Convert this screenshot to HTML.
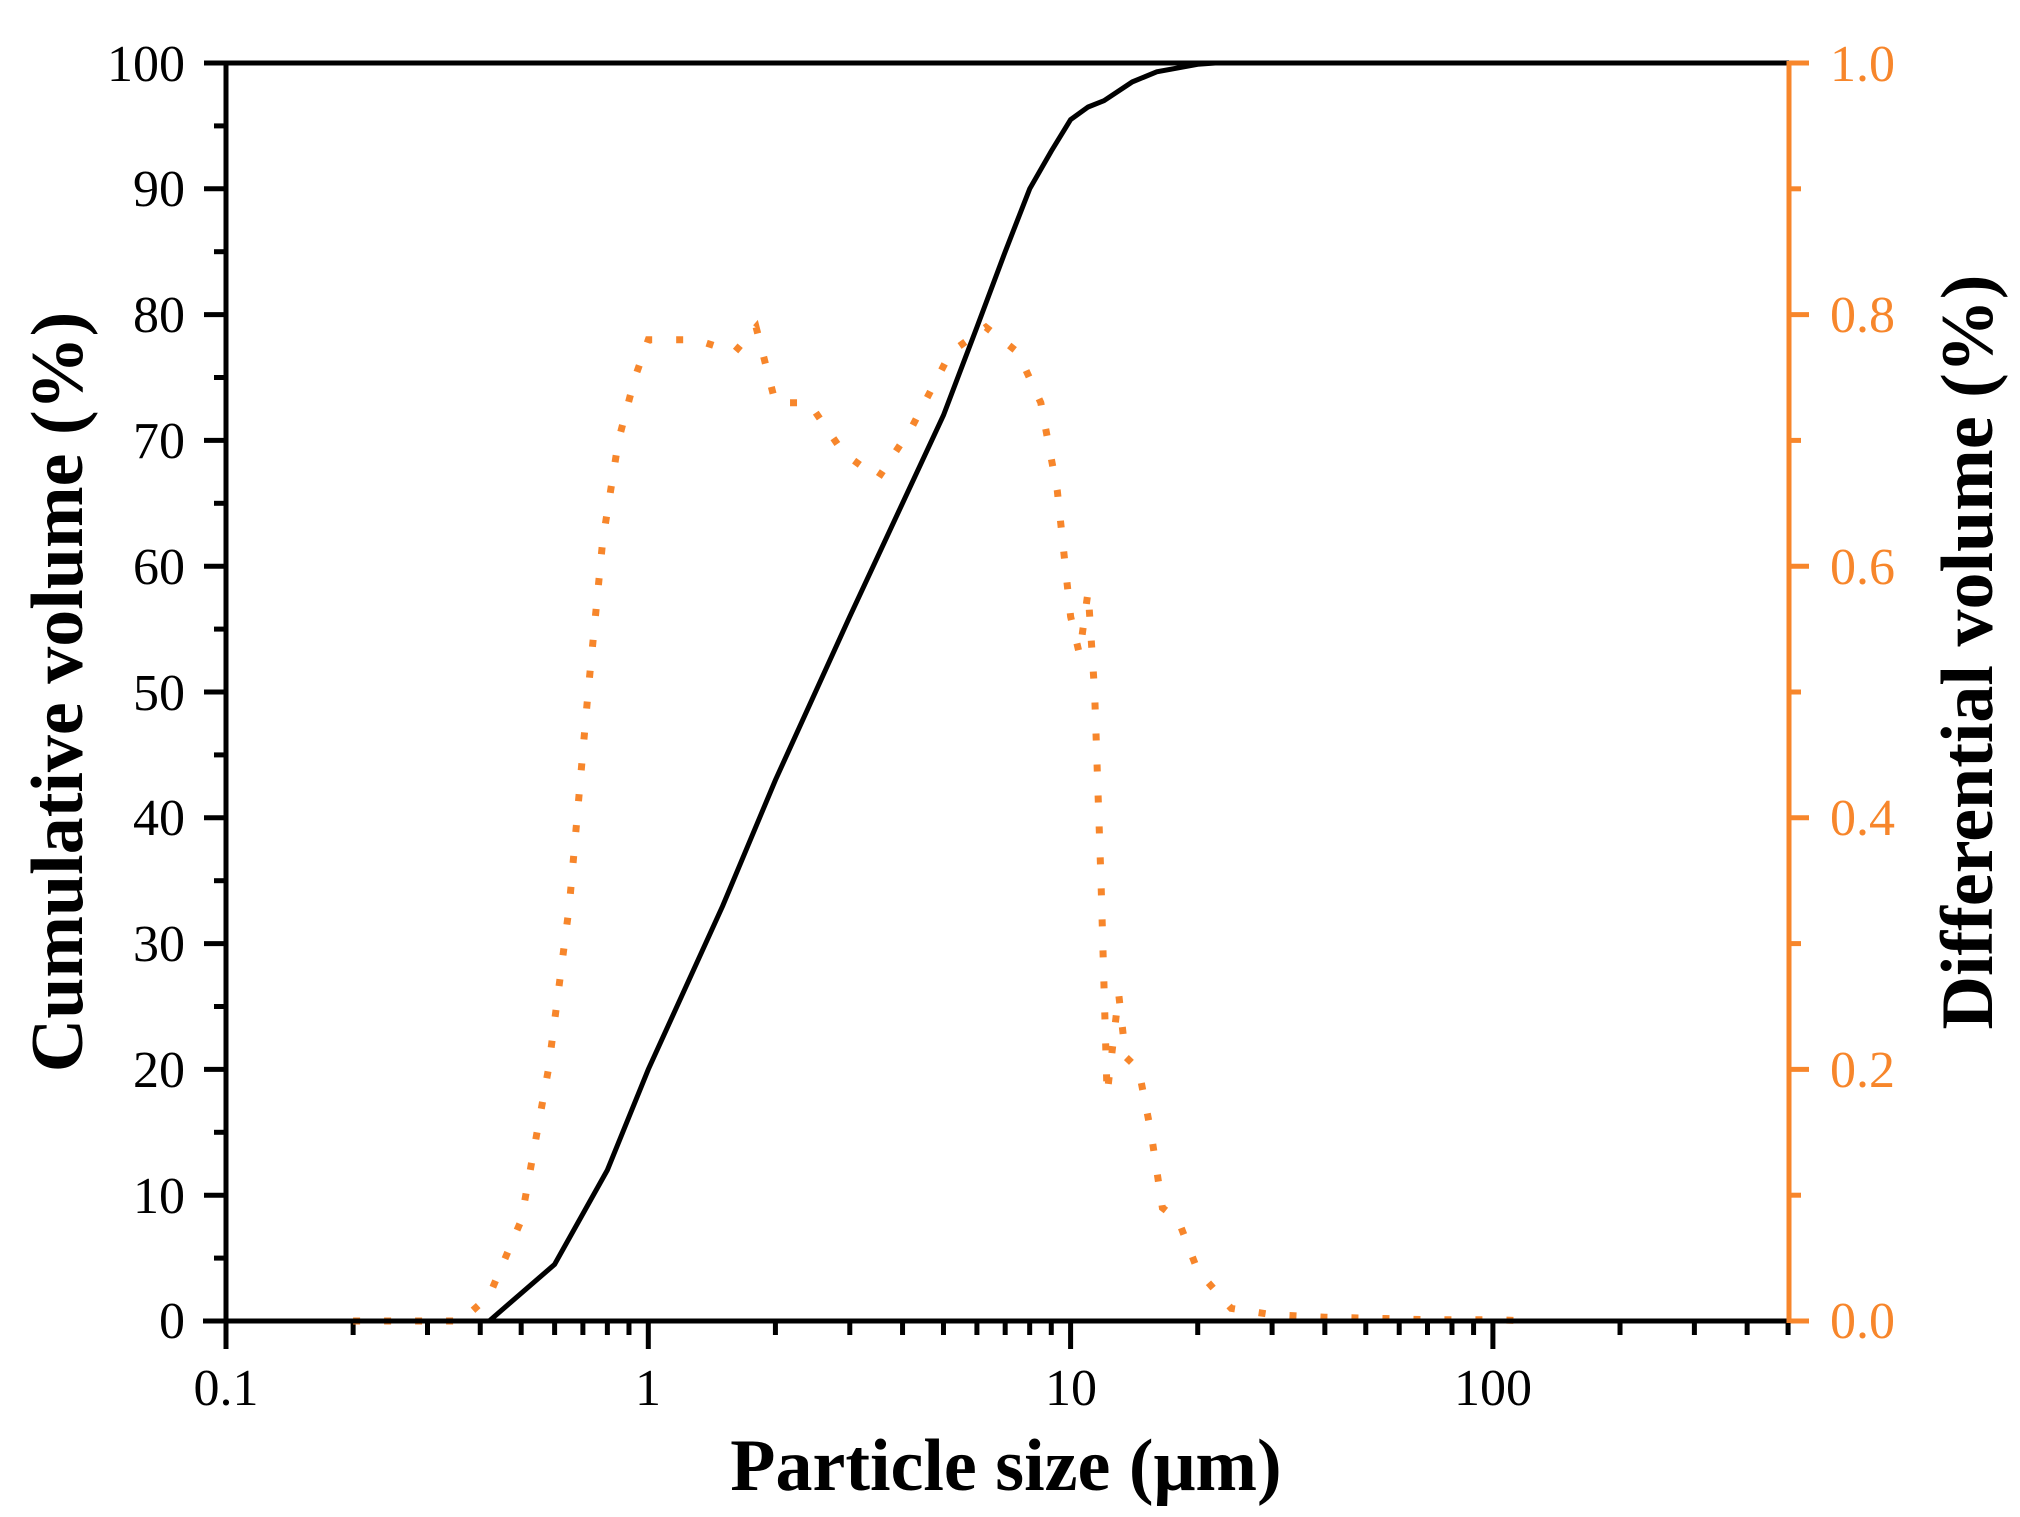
<!DOCTYPE html>
<html><head><meta charset="utf-8"><style>
html,body{margin:0;padding:0;background:#fff;}
svg{display:block;}
text{font-family:"Liberation Serif","Times New Roman",serif;}
</style></head><body>
<svg id="s" width="2020" height="1517" viewBox="0 0 2020 1517" xmlns="http://www.w3.org/2000/svg">
<rect width="2020" height="1517" fill="#fff"/>
<g id="ticks"></g>
<path id="diff" fill="none" stroke="#f7862b" stroke-width="7" stroke-dasharray="7 24"/>
<path id="cum" fill="none" stroke="#000" stroke-width="5"/>
<line x1="226" y1="63" x2="1789" y2="63" stroke="#000" stroke-width="5"/>
<line x1="226" y1="61" x2="226" y2="1323" stroke="#000" stroke-width="5"/>
<line x1="203" y1="1321" x2="1789" y2="1321" stroke="#000" stroke-width="5"/>
<line x1="1789" y1="61" x2="1789" y2="1323" stroke="#f7862b" stroke-width="5"/>
<g font-size="52" text-anchor="end" fill="#000">
<text x="185" y="1338">0</text><text x="185" y="1213">10</text><text x="185" y="1087">20</text>
<text x="185" y="961">30</text><text x="185" y="835">40</text><text x="185" y="710">50</text>
<text x="185" y="584">60</text><text x="185" y="458">70</text><text x="185" y="332">80</text>
<text x="185" y="206">90</text><text x="185" y="81">100</text>
</g>
<g font-size="52" text-anchor="start" fill="#f7862b">
<text x="1830" y="1338">0.0</text><text x="1830" y="1087">0.2</text><text x="1830" y="835">0.4</text>
<text x="1830" y="584">0.6</text><text x="1830" y="332">0.8</text><text x="1830" y="81">1.0</text>
</g>
<g font-size="52" text-anchor="middle" fill="#000">
<text x="226" y="1405">0.1</text><text x="648" y="1405">1</text><text x="1071" y="1405">10</text><text x="1493" y="1405">100</text>
</g>
<text x="1006" y="1490" font-size="74" font-weight="bold" text-anchor="middle">Particle size (μm)</text>
<text transform="translate(82,692) rotate(-90)" font-size="74" font-weight="bold" text-anchor="middle">Cumulative volume (%)</text>
<text transform="translate(1992,652) rotate(-90)" font-size="74" font-weight="bold" text-anchor="middle">Differential volume (%)</text>
</svg>
<script>
var X=function(v){return 226+(Math.log10(v)+1)*422.3;};
var Y=function(p){return 1321-p/100*1258;};
var cum=[[0.42,0],[0.6,4.5],[0.8,12],[1,20],[1.5,33],[2,43],[3,56],[4,65],[5,72],[6,79],[7,85],[8,90],[9,93],[10,95.5],[11,96.5],[12,97],[14,98.5],[16,99.3],[20,99.9],[22,100]];
var d="";cum.forEach(function(p,i){d+=(i?"L":"M")+X(p[0]).toFixed(1)+","+Y(p[1]).toFixed(1);});
document.getElementById("cum").setAttribute("d",d);
var df=[[0.2,0],[0.27,0],[0.36,0],[0.42,0.02],[0.5,0.08],[0.58,0.2],[0.65,0.33],[0.72,0.5],[0.78,0.62],[0.85,0.7],[0.93,0.75],[1.0,0.78],[1.3,0.78],[1.6,0.77],[1.8,0.79],[2.0,0.73],[2.4,0.73],[2.9,0.69],[3.5,0.67],[4.2,0.71],[5.2,0.77],[6.3,0.79],[7.5,0.77],[8.5,0.73],[9.3,0.66],[10,0.56],[10.5,0.53],[11,0.58],[11.4,0.5],[11.8,0.35],[12.2,0.18],[13,0.26],[13.5,0.21],[14.5,0.2],[15.5,0.15],[16.5,0.09],[18,0.08],[20,0.04],[24,0.01],[30,0.005],[40,0.003],[55,0.002],[70,0.001],[100,0.001],[125,0]];
d="";df.forEach(function(p,i){d+=(i?"L":"M")+X(p[0]).toFixed(1)+","+Y(p[1]*100).toFixed(1);});
document.getElementById("diff").setAttribute("d",d);
var g=document.getElementById("ticks"),h="";
for(var i=0;i<=20;i++){var y=Y(i*5),L=(i%2==0)?22:12;
h+='<line x1="'+(226-L)+'" y1="'+y+'" x2="226" y2="'+y+'" stroke="#000" stroke-width="5"/>';
if(i%2==0)h+='<line x1="1789" y1="'+y+'" x2="'+(1789+(i%4==0?20:12))+'" y2="'+y+'" stroke="#f7862b" stroke-width="5"/>';}
for(var e=-1;e<=2;e++){for(var m=1;m<=9;m++){var v=m*Math.pow(10,e);if(v>500)break;var x=X(v);
h+='<line x1="'+x+'" y1="1321" x2="'+x+'" y2="'+(1321+(m==1?28:14))+'" stroke="#000" stroke-width="5"/>';}}
g.innerHTML=h;
</script>
</body></html>
